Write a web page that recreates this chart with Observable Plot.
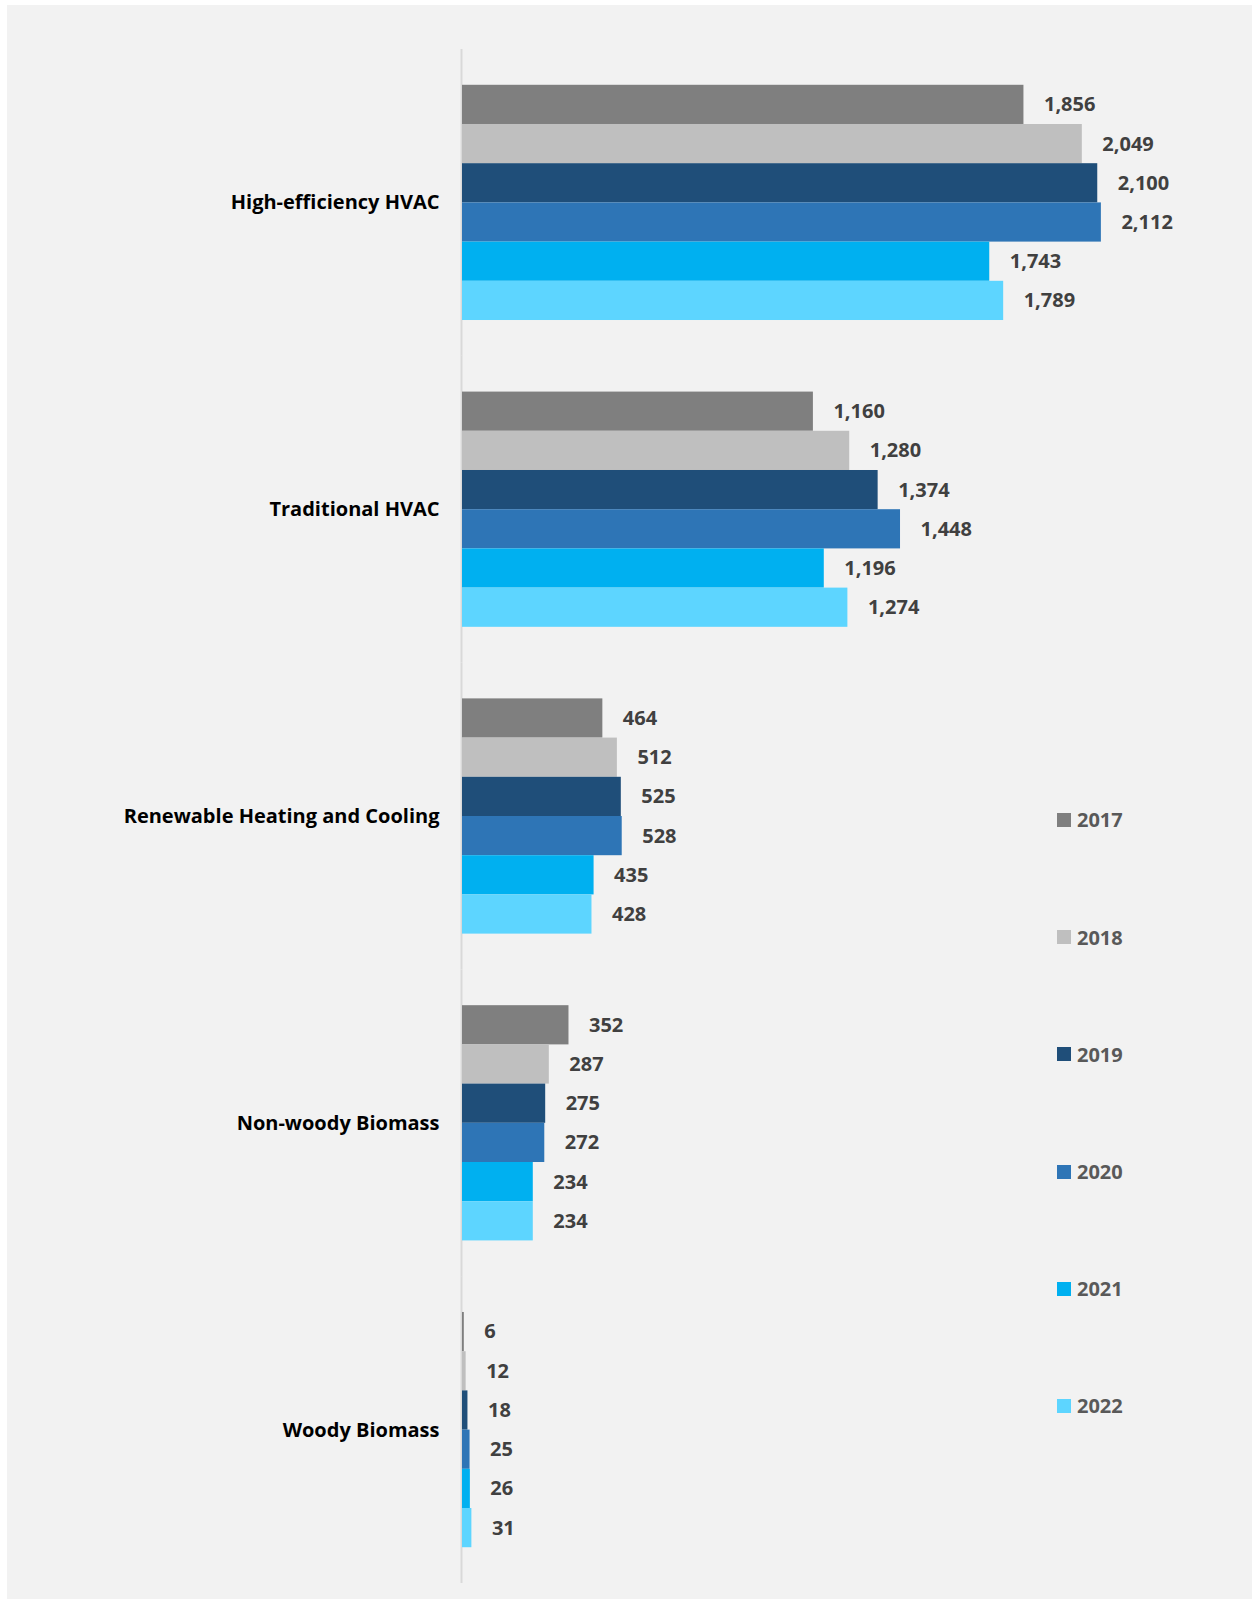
<!DOCTYPE html>
<html><head><meta charset="utf-8">
<script src="https://cdn.jsdelivr.net/npm/d3@7"></script>
<script src="https://cdn.jsdelivr.net/npm/@observablehq/plot@0.6"></script>
<style>
body{margin:0;background:#fff;}
#wrap{position:relative;width:1252px;height:1599px;overflow:hidden;}
#bg{position:absolute;left:7px;top:5px;right:0;bottom:0;background:#f2f2f2;}
#chart{position:absolute;left:0;top:0;}
#legend{position:absolute;left:1057px;top:761.4px;font-family:"Open Sans",sans-serif;font-weight:700;font-size:20px;color:#595959;}
.item{height:117.2px;display:flex;align-items:center;}
.sw{width:14px;height:14px;margin-right:6px;}
</style></head><body>
<div id="wrap"><div id="bg"></div><div id="chart"></div><div id="legend"></div></div>
<script>
const categories = ["High-efficiency HVAC", "Traditional HVAC", "Renewable Heating and Cooling", "Non-woody Biomass", "Woody Biomass"];
const years = ["2017", "2018", "2019", "2020", "2021", "2022"];
const values2017 = [1856, 1160, 464, 352, 6];
const values2018 = [2049, 1280, 512, 287, 12];
const values2019 = [2100, 1374, 525, 275, 18];
const values2020 = [2112, 1448, 528, 272, 25];
const values2021 = [1743, 1196, 435, 234, 26];
const values2022 = [1789, 1274, 428, 234, 31];
const yearColors = ["#7f7f7f", "#bfbfbf", "#1f4e79", "#2e75b6", "#00b0f0", "#5dd5ff"];

const series = [values2017, values2018, values2019, values2020, values2021, values2022];
const rows = [];
categories.forEach((c, i) => years.forEach((y, j) => rows.push({category: c, year: y, value: series[j][i]})));

const W = 1252, H = 1599, mTop = 49, mBottom = 16;
const padInner = 0.2333;
const step = (H - mTop - mBottom) / categories.length;
const halfGap = step * padInner / 2;

const chart = Plot.plot({
  width: W, height: H,
  marginTop: mTop, marginBottom: mBottom, marginLeft: 462, marginRight: 64,
  style: {background: "transparent", fontFamily: "'Open Sans', sans-serif", fontSize: "20px", fontWeight: "bold", color: "#000"},
  facet: {data: rows, y: "category"},
  fy: {domain: categories, paddingInner: padInner, paddingOuter: padInner / 2, round: false, axis: "left", label: null, tickSize: 0, tickPadding: 23},
  y: {domain: years, padding: 0, round: false, axis: null},
  x: {domain: [0, 2400], axis: null},
  color: {domain: years, range: yearColors},
  marks: [
    Plot.ruleX([0], {stroke: "#d9d9d9", strokeWidth: 2, dx: -1, insetTop: -halfGap, insetBottom: -halfGap}),
    Plot.barX(rows, {x: "value", y: "year", fill: "year"}),
    Plot.text(rows, {x: "value", y: "year", text: d => d3.format(",")(d.value), textAnchor: "start", dx: 20, fill: "#404040", fontSize: 20, fontWeight: "bold"})
  ]
});
document.getElementById("chart").appendChild(chart);

const legend = document.getElementById("legend");
years.forEach((y, i) => {
  const it = document.createElement("div");
  it.className = "item";
  it.innerHTML = `<div class="sw" style="background:${yearColors[i]}"></div><span>${y}</span>`;
  legend.appendChild(it);
});
</script>
</body></html>
